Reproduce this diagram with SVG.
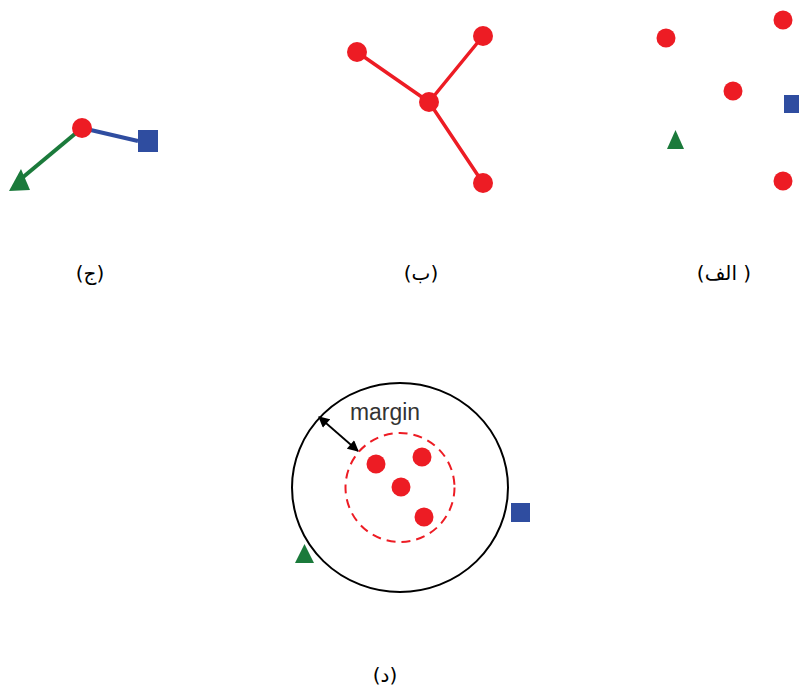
<svg xmlns="http://www.w3.org/2000/svg" width="799" height="688" viewBox="0 0 799 688">
<defs>
<style>
.red{fill:#ED1C24}
.blue{fill:#2F4DA0}
.green{fill:#1B7A3B}
.lbl{font-family:"DejaVu Sans","Noto Sans",sans-serif;font-size:20px;fill:#000;text-anchor:middle}
.edge-r{stroke:#ED1C24;stroke-width:3.5;fill:none;stroke-linecap:round}
</style>
<marker id="ah" viewBox="0 0 10 10" refX="9" refY="5" markerWidth="12" markerHeight="11" markerUnits="userSpaceOnUse" orient="auto-start-reverse">
<path d="M0,0 L10,5 L0,10 z" fill="#000"/>
</marker>
</defs>
<rect width="799" height="688" fill="#fff"/>

<g id="connectors">
<line x1="82" y1="128" x2="138" y2="141" stroke="#2F4DA0" stroke-width="4"/>
<line x1="82" y1="128" x2="22" y2="178" stroke="#1B7A3B" stroke-width="4"/>
<line class="edge-r" x1="429" y1="102" x2="357" y2="52"/>
<line class="edge-r" x1="429" y1="102" x2="483" y2="36"/>
<line class="edge-r" x1="429" y1="102" x2="483" y2="183"/>
<line x1="319" y1="417" x2="358" y2="451" stroke="#000" stroke-width="1.8" marker-start="url(#ah)" marker-end="url(#ah)"/>
</g>

<!-- panel c -->
<g id="c-node"><circle class="red" cx="82" cy="128" r="10"/></g>
<g id="c-square"><rect class="blue" x="138" y="130" width="20" height="22"/></g>
<g id="c-triangle"><polygon class="green" points="9,191 30,190 21,169"/></g>

<!-- panel b -->
<g id="b-center"><circle class="red" cx="429" cy="102" r="10"/></g>
<g id="b-left"><circle class="red" cx="357" cy="52" r="10"/></g>
<g id="b-top"><circle class="red" cx="483" cy="36" r="10"/></g>
<g id="b-bottom"><circle class="red" cx="483" cy="183" r="10"/></g>

<!-- panel a -->
<g id="a-points">
<circle class="red" cx="666" cy="38" r="9.5"/>
<circle class="red" cx="783" cy="20" r="9.5"/>
<circle class="red" cx="733" cy="91" r="9.5"/>
<circle class="red" cx="783" cy="181" r="9.5"/>
<rect class="blue" x="784" y="95" width="19" height="18"/>
<polygon class="green" points="667,149 684,149 675.5,130"/>
</g>

<!-- labels -->
<text class="lbl" x="90" y="280">(ج)</text>
<text class="lbl" x="421" y="280">(ب)</text>
<text class="lbl" x="724" y="280">(الف )</text>
<text class="lbl" x="385" y="682">(د)</text>

<!-- panel d -->
<g id="d-outer"><ellipse cx="400" cy="487.5" rx="108" ry="104.5" fill="none" stroke="#000" stroke-width="2"/></g>
<g id="d-inner"><circle cx="400" cy="487.5" r="54.5" fill="none" stroke="#ED1C24" stroke-width="2" stroke-dasharray="9,6"/></g>
<g id="d-points">
<circle class="red" cx="376" cy="464" r="9.5"/>
<circle class="red" cx="422" cy="457" r="9.5"/>
<circle class="red" cx="401" cy="487" r="9.5"/>
<circle class="red" cx="424" cy="517" r="9.5"/>
</g>
<g id="d-square"><rect class="blue" x="511" y="503" width="19" height="19"/></g>
<g id="d-triangle"><polygon class="green" points="295,563 314,563 304.5,544"/></g>
<g id="d-margin"><text x="350" y="420" font-family="Liberation Sans, Arial, sans-serif" font-size="23" fill="#333" textLength="70" lengthAdjust="spacingAndGlyphs">margin</text></g>
</svg>
